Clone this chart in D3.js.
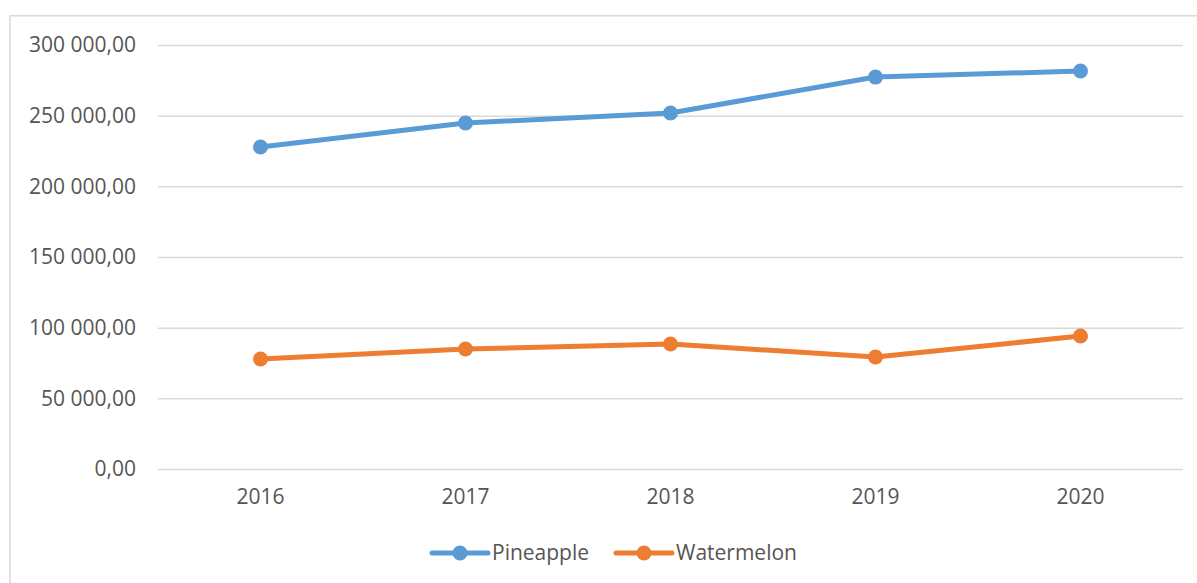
<!DOCTYPE html>
<html>
<head>
<meta charset="utf-8">
<script src="https://cdn.jsdelivr.net/npm/d3@7"></script>
<style>
    body { margin: 0; background: #fff; }
    text { font-family: "Open Sans", Lato, sans-serif; fill: #555555; }
    .axisLine .domain { display: none; }
    .axisLine line { stroke: #d9d9d9; stroke-width: 1.5; }
</style>
</head>
<body>
<div id="chart"></div>
<script>
const years = ["2016", "2017", "2018", "2019", "2020"];
const seriesNames = ["Pineapple", "Watermelon"];
const pineapple = [227800, 244800, 251900, 277300, 281600];
const watermelon = [77800, 84900, 88400, 79200, 94100];
const yTicks = [0, 50000, 100000, 150000, 200000, 250000, 300000];
const colors = ["#5b9bd5", "#ed7d31"];

class LineChart {
    constructor(config) {
        this.config = config;
        this.svg = d3.select(config.div)
            .append("svg")
            .attr("width", config.width)
            .attr("height", config.height);

        // outer chart-area frame
        this.svg.append("rect")
            .attr("x", 10)
            .attr("y", 15.75)
            .attr("width", config.width)
            .attr("height", config.height)
            .attr("fill", "none")
            .attr("stroke", "#d9d9d9")
            .attr("stroke-width", 1.5);

        this.xScale = d3.scaleBand().domain(years).range([config.left, config.right]);
        this.yScale = d3.scaleLinear().domain([0, 300000]).range([config.bottom, config.top]);

        let locale = d3.formatLocale({ decimal: ",", thousands: " ", grouping: [3], currency: ["", ""] });
        this.fmt = locale.format(",.2f");
    }

    createAxis() {
        let c = this.config;
        let yAxis = d3.axisLeft(this.yScale)
            .tickValues(yTicks)
            .tickSize(-(c.right - c.left))
            .tickPadding(22)
            .tickFormat(this.fmt);

        let gy = this.svg.append("g")
            .attr("class", "y axisLine")
            .attr("transform", `translate(${c.left},0)`)
            .call(yAxis);
        gy.selectAll("text").style("font-size", "21px");

        let xAxis = d3.axisBottom(this.xScale).tickSize(0).tickPadding(20);
        let gx = this.svg.append("g")
            .attr("class", "x axisLine")
            .attr("transform", `translate(0,${c.bottom})`)
            .call(xAxis);
        gx.selectAll("text").style("font-size", "21px");
    }

    renderLines() {
        let line = d3.line()
            .x((d, i) => this.xScale(years[i]) + this.xScale.bandwidth() / 2)
            .y(d => this.yScale(d));

        [pineapple, watermelon].forEach((values, k) => {
            this.svg.append("path")
                .datum(values)
                .attr("d", line)
                .attr("fill", "none")
                .attr("stroke", colors[k])
                .attr("stroke-width", 5)
                .attr("stroke-linejoin", "round");

            this.svg.selectAll(null)
                .data(values)
                .join("circle")
                .attr("cx", (d, i) => this.xScale(years[i]) + this.xScale.bandwidth() / 2)
                .attr("cy", d => this.yScale(d))
                .attr("r", 7.5)
                .attr("fill", colors[k]);
        });
    }

    renderLegend() {
        let items = [{ x: 432, name: seriesNames[0] }, { x: 616, name: seriesNames[1] }];
        let y = 553;
        items.forEach((it, k) => {
            let g = this.svg.append("g").attr("transform", `translate(${it.x},${y})`);
            g.append("line")
                .attr("x1", 0).attr("x2", 56)
                .attr("stroke", colors[k])
                .attr("stroke-width", 5)
                .attr("stroke-linecap", "round");
            g.append("circle").attr("cx", 28).attr("r", 7.5).attr("fill", colors[k]);
            g.append("text")
                .attr("x", 60)
                .attr("dy", "0.35em")
                .style("font-size", "21px")
                .text(it.name);
        });
    }
}

let chart = new LineChart({ div: "#chart", width: 1197, height: 583, left: 158, right: 1183, top: 45, bottom: 469 });
chart.createAxis();
chart.renderLines();
chart.renderLegend();
</script>
</body>
</html>
